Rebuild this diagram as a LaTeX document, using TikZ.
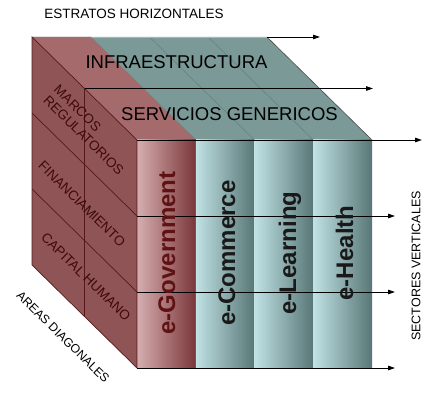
\documentclass[tikz,border=0pt]{standalone}
\usepackage{fontspec}
\setmainfont{Liberation Sans}
\usepackage{xcolor}
\usepackage{tikz}
\usetikzlibrary{arrows.meta, calc}

\definecolor{topteal}{RGB}{122,153,151}
\definecolor{tealline}{RGB}{98,128,126}
\definecolor{redtop}{RGB}{165,106,108}
\definecolor{redside}{RGB}{142,84,86}
\definecolor{redline}{RGB}{88,24,27}
\definecolor{labelred}{RGB}{62,10,12}
\definecolor{govtext}{RGB}{95,18,20}
\definecolor{govL}{RGB}{214,174,176}
\definecolor{govM}{RGB}{190,138,140}
\definecolor{govD}{RGB}{122,54,57}
\definecolor{cyanL}{RGB}{192,226,228}
\definecolor{cyanM}{RGB}{164,200,202}
\definecolor{cyanD}{RGB}{88,118,118}

\begin{document}
\begin{tikzpicture}[
x=1pt, y=-1pt,
edge/.style={draw=redline, line width=0.7pt},
flow/.style={-{Triangle[length=7pt,width=4.5pt]}, line width=0.8pt, black},
sector/.style={rotate=90, anchor=base, font=\fontsize{24}{26}\selectfont\bfseries},
area/.style={rotate=-44.45, font=\fontsize{13.5}{15}\selectfont, text=labelred},
layer/.style={font=\fontsize{18.5}{20}\selectfont, text=black},
axis/.style={font=\fontsize{12.5}{14}\selectfont, text=black}
]
\useasboundingbox (0,0) rectangle (427,395);

% Corners of the cube
\coordinate (ftl) at (137,140);
\coordinate (f1t) at (195.75,140);
\coordinate (f2t) at (254.5,140);
\coordinate (f3t) at (313.25,140);
\coordinate (ftr) at (372,140);
\coordinate (fbl) at (137,368);
\coordinate (f1b) at (195.75,368);
\coordinate (f2b) at (254.5,368);
\coordinate (f3b) at (313.25,368);
\coordinate (fbr) at (372,368);
\coordinate (btl) at (32,37);
\coordinate (b1t) at (90.75,37);
\coordinate (b2t) at (149.5,37);
\coordinate (b3t) at (208.25,37);
\coordinate (btr) at (267,37);
\coordinate (bbl) at (32,265);
\coordinate (mtl) at (84.5,88.5);
\coordinate (mbl) at (84.5,316.5);
\coordinate (l1b) at (32,113);
\coordinate (l1f) at (137,216);
\coordinate (l2b) at (32,189);
\coordinate (l2f) at (137,292);

% Arrow ends
\coordinate (e0) at (320,37);
\coordinate (e1) at (373,88.5);
\coordinate (e2) at (422,140);
\coordinate (e3) at (395,216);
\coordinate (e4) at (395,292);
\coordinate (e5) at (395,368);

% Top face
\fill[topteal] (ftl) -- (ftr) -- (btr) -- (btl) -- cycle;
\draw[tealline, line width=0.5pt] (f1t) -- (b1t);
\draw[tealline, line width=0.5pt] (f2t) -- (b2t);
\draw[tealline, line width=0.5pt] (f3t) -- (b3t);
\draw[gray!60, line width=0.6pt] (btl) -- (btr);
\draw[black!70, line width=0.6pt] (btr) -- (ftr);
\fill[redtop] (ftl) -- (f1t) -- (b1t) -- (btl) -- cycle;

% Left face
\fill[redside] (btl) -- (ftl) -- (fbl) -- (bbl) -- cycle;

% Vertical sectors
\shade[left color=govL, middle color=govM, right color=govD] (ftl) rectangle (f1b);
\shade[left color=cyanL, middle color=cyanM, right color=cyanD] (f1t) rectangle (f2b);
\shade[left color=cyanL, middle color=cyanM, right color=cyanD] (f2t) rectangle (f3b);
\shade[left color=cyanL, middle color=cyanM, right color=cyanD] (f3t) rectangle (fbr);

% Diagonal areas
\draw[edge] (btl) -- (ftl) -- (fbl) -- (bbl) -- cycle;
\draw[edge] (l1b) -- (l1f);
\draw[edge] (l2b) -- (l2f);
\draw[edge] (mtl) -- (mbl);
\draw[edge] (ftl) -- (f1t);

% Horizontal strata
\draw[flow] (btr) -- (e0);
\draw[flow] (mtl) -- (e1);
\draw[flow] (ftl) -- (e2);
\draw[flow] (l1f) -- (e3);
\draw[flow] (l2f) -- (e4);
\draw[flow] (fbl) -- (e5);

% Labels
\node[layer] (infra) at (176.5,62) {INFRAESTRUCTURA};
\node[layer] (serv) at (229.5,114) {SERVICIOS GENERICOS};
\node[sector, text=govtext] (gov) at (175,253) {e-Government};
\node[sector, text=black!90] (com) at (235,253) {e-Commerce};
\node[sector, text=black!90] (lea) at (296,253) {e-Learning};
\node[sector, text=black!90] (hea) at (353,253) {e-Health};
\node[area, align=left] (marcos) at (89,130) {MARCOS\\REGULATORIOS};
\node[area] (finan) at (82,204) {FINANCIAMIENTO};
\node[area] (capital) at (86,277) {CAPITAL HUMANO};

% Axis names
\node[axis, font=\fontsize{13.5}{15}\selectfont] (estratos) at (134,14) {ESTRATOS HORIZONTALES};
\node[axis, rotate=90] (sectores) at (416,266) {SECTORES VERTICALES};
\node[axis, rotate=-44.45, font=\fontsize{12.2}{14}\selectfont] (areas) at (63,337) {AREAS DIAGONALES};

\end{tikzpicture}
\end{document}
